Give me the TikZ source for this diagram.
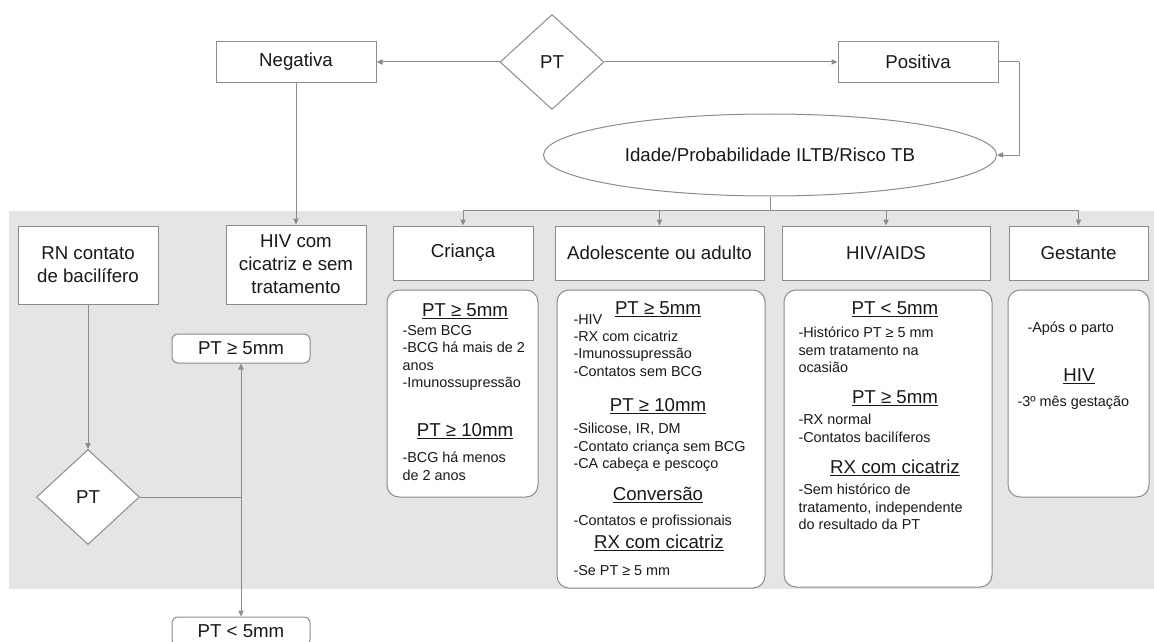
\documentclass[tikz,border=0pt]{standalone}
\usepackage{fontspec}
\setmainfont{Liberation Sans}
\usetikzlibrary{shapes.geometric,arrows.meta}
\definecolor{linegray}{RGB}{140,140,140}
\definecolor{panelgray}{RGB}{229,229,229}
\definecolor{txtcol}{RGB}{25,25,25}
\newcommand{\hd}[1]{\underline{#1}}
\tikzset{every picture/.style={line width=0.75pt}}
\tikzset{
  boxnode/.style={draw=linegray, fill=white, align=center, inner sep=0pt, text=txtcol, font=\fontsize{14}{17.25}\selectfont},
  decnode/.style={diamond, draw=linegray, fill=white, inner sep=0pt, text=txtcol, font=\fontsize{14}{17}\selectfont},
  cardbox/.style={draw=linegray, fill=white, rounded corners=9pt},
  head/.style={anchor=base, inner sep=0pt, text=txtcol, font=\fontsize{14}{17}\selectfont},
  body/.style={anchor=north west, inner sep=0pt, align=left, text=txtcol, font=\fontsize{10.8}{13}\selectfont},
  arr/.style={draw=linegray, -{Triangle[length=4.5pt,width=4pt]}},
  link/.style={draw=linegray},
}

\begin{document}
\begin{tikzpicture}[x=0.75pt,y=0.75pt,yscale=-1,xscale=1]
\clip (0,0) rectangle (1154,642);

%Shape: background panel
\fill [panelgray] (9,211) rectangle (1154,589);

%Shape: top row
\node [boxnode, minimum width=120pt, minimum height=30.75pt] (neg) at (296,62) {Negativa};
\node [decnode, minimum width=78pt, minimum height=71.25pt] (pt) at (552,62) {PT};
\node [boxnode, minimum width=120pt, minimum height=30.75pt] (pos) at (918,62) {Positiva};
%Shape: Ellipse
\node [ellipse, draw=linegray, fill=white, inner sep=0pt, minimum width=339.75pt, minimum height=61.5pt, text=txtcol, font=\fontsize{14}{17}\selectfont] (idade) at (770,155) {Idade/Probabilidade ILTB/Risco TB};

%Shape: group boxes
\node [boxnode, minimum width=105pt, minimum height=58.5pt] (rn) at (88,265) {RN contato\\de bacilífero};
\node [boxnode, minimum width=105pt, minimum height=59.25pt] (hivcic) at (296,264.5) {HIV com\\cicatriz e sem\\tratamento};
\node [boxnode, minimum width=105pt, minimum height=40.5pt] (crianca) at (463,253) {Criança};
\node [boxnode, minimum width=156.75pt, minimum height=40.5pt] (adulto) at (659.5,253) {Adolescente ou adulto};
\node [boxnode, minimum width=156pt, minimum height=40.5pt] (hivaids) at (886,253) {HIV/AIDS};
\node [boxnode, minimum width=104.25pt, minimum height=40.5pt] (gestante) at (1078.5,253) {Gestante};

%Shape: left branch
\node [decnode, minimum width=77.25pt, minimum height=71.25pt] (pt2) at (88,497) {PT};
\node [boxnode, rounded corners=4.5pt, minimum width=103.5pt, minimum height=21.75pt] (ge5) at (241,348.5) {PT ≥ 5mm};
\node [boxnode, rounded corners=4.5pt, minimum width=103.5pt, minimum height=21.75pt] (lt5) at (241,631.5) {PT < 5mm};

\coordinate (posr) at (1019,62);
\coordinate (split) at (770,210);
\coordinate (jn) at (241,497);

%Straight Lines
\draw [arr] (pt.west) -- (neg.east);
\draw [arr] (pt.east) -- (pos.west);
\draw [link] (pos.east) -- (posr);
\draw [arr] (posr) |- (idade.east);
\draw [arr] (neg.south) -- (hivcic.north);
\draw [link] (idade.south) -- (split);
\foreach \grp in {crianca,adulto,hivaids,gestante}
  \draw [arr] (split) -| (\grp.north);
\draw [arr] (rn.south) -- (pt2.north);
\draw [link] (pt2.east) -- (jn);
\draw [arr] (jn) -- (ge5.south);
\draw [arr] (jn) -- (lt5.north);

%Shape: cards
\draw [cardbox] (387,290) rectangle (538,497);
\draw [cardbox] (557,290) rectangle (765,588);
\draw [cardbox] (784,290) rectangle (992,587);
\draw [cardbox] (1008,290) rectangle (1149,497);

% Text Node: crianca
\node [head] (c1h) at (465,316.7) {\hd{PT ≥ 5mm}};
\node [body] (c1b) at (402,324.8) {-Sem BCG\\-BCG há mais de 2\\anos\\-Imunossupressão};
\node [head] (c2h) at (465,436.7) {\hd{PT ≥ 10mm}};
\node [body] (c2b) at (402,451.8) {-BCG há menos\\de 2 anos};

% Text Node: adolescente ou adulto
\node [head] (a1h) at (658,314.7) {\hd{PT ≥ 5mm}};
\node [body] (a1b) at (573,313.8) {-HIV\\-RX com cicatriz\\-Imunossupressão\\-Contatos sem BCG};
\node [head] (a2h) at (658,411.7) {\hd{PT ≥ 10mm}};
\node [body] (a2b) at (573,422.8) {-Silicose, IR, DM\\-Contato criança sem BCG\\-CA cabeça e pescoço};
\node [head] (a3h) at (658,500.7) {\hd{Conversão}};
\node [body] (a3b) at (573,514.8) {-Contatos e profissionais};
\node [head] (a4h) at (659,548.7) {\hd{RX com cicatriz}};
\node [body] (a4b) at (573,564.8) {-Se PT ≥ 5 mm};

% Text Node: HIV/AIDS
\node [head] (h1h) at (895,314.7) {\hd{PT < 5mm}};
\node [body] (h1b) at (798,326.8) {-Histórico PT ≥ 5 mm\\sem tratamento na\\ocasião};
\node [head] (h2h) at (895,403.7) {\hd{PT ≥ 5mm}};
\node [body] (h2b) at (798,413.8) {-RX normal\\-Contatos bacilíferos};
\node [head] (h3h) at (895,473.7) {\hd{RX com cicatriz}};
\node [body] (h3b) at (798,483.8) {-Sem histórico de\\tratamento, independente\\do resultado da PT};

% Text Node: gestante
\node [body] (g1b) at (1027,321.8) {-Após o parto};
\node [head] (g2h) at (1079,381.7) {\hd{HIV}};
\node [body] (g2b) at (1017,395.8) {-3º mês gestação};

\end{tikzpicture}
\end{document}
